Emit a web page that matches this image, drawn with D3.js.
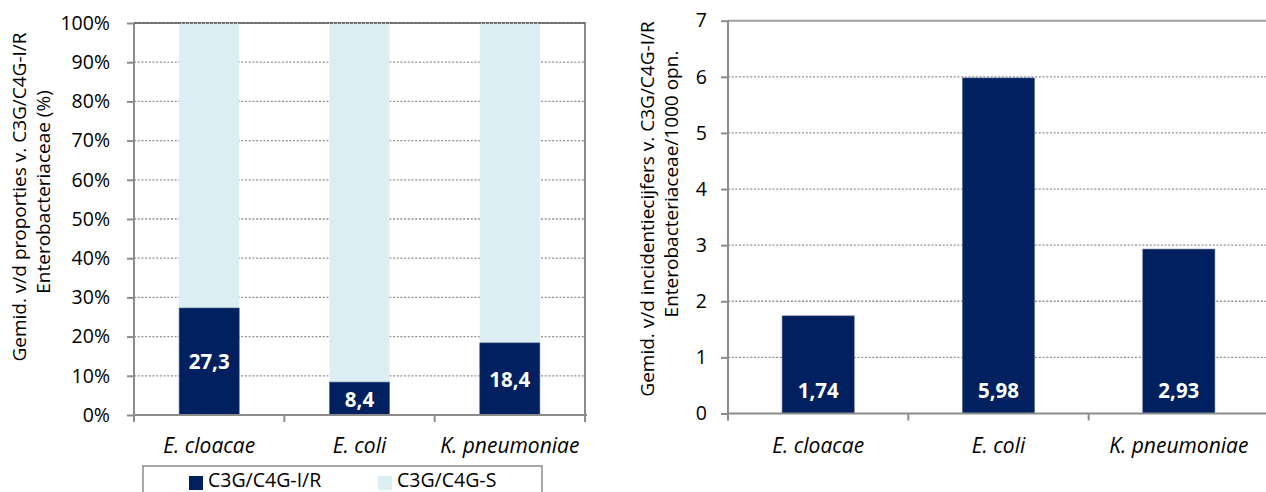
<!DOCTYPE html>
<html>
<head>
<meta charset="utf-8">
<script src="https://cdn.jsdelivr.net/npm/d3@7/dist/d3.min.js"></script>
<style>
  html, body { margin: 0; padding: 0; background: #fff; }
  svg { display: block; font-family: "Open Sans", "Noto Sans", sans-serif; }
</style>
</head>
<body>
<svg id="chart" width="1266" height="492"></svg>
<script>
// Species shown on both panels
const species = ["E. cloacae", "E. coli", "K. pneumoniae"];

// Left panel: mean proportion of C3G/C4G-I/R (%) — the remainder is susceptible
const resistantPct = [27.3, 8.4, 18.4];
const susceptiblePct = resistantPct.map(v => 100 - v);
const pctTicks = [0, 10, 20, 30, 40, 50, 60, 70, 80, 90, 100];

// Right panel: mean incidence per 1000 admissions
const incidence = [1.74, 5.98, 2.93];
const incTicks = [0, 1, 2, 3, 4, 5, 6, 7];

// Legend entries
const seriesNames = ["C3G/C4G-I/R", "C3G/C4G-S"];

const NAVY = "#002060";
const LIGHT = "#DAEEF3";
const AXIS = "#8c8c8c";
const GRID = "#8f8f8f";
const fmt = v => String(v).replace(".", ",");

const svg = d3.select("#chart");

function panel(opts) {
  const g = svg.append("g");
  const x = d3.scaleBand().domain(species).range(opts.xRange)
    .paddingInner(0.6).paddingOuter(0.3);
  const y = d3.scaleLinear().domain(opts.yDomain).range(opts.yRange);

  // dotted horizontal gridlines
  g.append("g").selectAll("line").data(opts.ticks.filter(t => t > opts.yDomain[0] && t < opts.yDomain[1]))
    .join("line")
    .attr("x1", opts.xRange[0]).attr("x2", opts.xRange[1])
    .attr("y1", d => y(d)).attr("y2", d => y(d))
    .attr("stroke", GRID).attr("stroke-width", 1.3)
    .attr("stroke-dasharray", "2,1.7");

  // plot-area border (top and right)
  g.append("path")
    .attr("d", `M${opts.xRange[0]},${y(opts.yDomain[1])}H${opts.xRange[1]}V${y(opts.yDomain[0])}`)
    .attr("fill", "none").attr("stroke", opts.borderColor).attr("stroke-width", 2);

  // y axis
  const ya = d3.axisLeft(y).tickValues(opts.ticks).tickSize(7).tickPadding(opts.tickPad)
    .tickFormat(opts.tickFormat);
  const yg = g.append("g").attr("transform", `translate(${opts.xRange[0]},0)`).call(ya);
  yg.select(".domain").attr("stroke", AXIS).attr("stroke-width", 2)
    .attr("d", `M0,${y(opts.yDomain[1])}V${y(opts.yDomain[0]) + 7}`);
  yg.selectAll(".tick line").attr("stroke", AXIS).attr("stroke-width", 2);
  yg.selectAll(".tick text").attr("fill", "#000").attr("font-size", 19.5)
    .attr("font-family", "'Open Sans', sans-serif");

  return { g, x, y };
}

function xAxis(p, xRange, baseY) {
  const step = p.x.step();
  const bounds = species.map(s => p.x(s) + p.x.bandwidth() / 2 - step / 2);
  bounds.push(xRange[1]);
  p.g.append("line")
    .attr("x1", xRange[0]).attr("x2", xRange[1] + 2)
    .attr("y1", baseY).attr("y2", baseY)
    .attr("stroke", AXIS).attr("stroke-width", 2);
  p.g.append("g").selectAll("line").data(bounds).join("line")
    .attr("x1", d => d).attr("x2", d => d)
    .attr("y1", baseY).attr("y2", baseY + 7)
    .attr("stroke", AXIS).attr("stroke-width", 2);
  p.g.append("g").selectAll("text").data(species).join("text")
    .attr("x", d => p.x(d) + p.x.bandwidth() / 2)
    .attr("y", 453)
    .attr("text-anchor", "middle")
    .attr("font-size", 21).attr("font-style", "italic")
    .text(d => d);
}

function axisTitle(lines) {
  lines.forEach(l => {
    svg.append("text")
      .attr("transform", `translate(${l.x},${l.y}) rotate(-90)`)
      .attr("text-anchor", "middle")
      .attr("dominant-baseline", "central")
      .attr("font-size", 19)
      .text(l.text);
  });
}

// ---------- Left panel: stacked 100% bars ----------
const L = panel({
  xRange: [134, 585], yDomain: [0, 100], yRange: [415, 23],
  ticks: pctTicks, tickFormat: d => d + "%", tickPad: 17, borderColor: "#8a8a8a"
});

const stackData = species.map((s, i) => ({ sp: s, r: resistantPct[i], s: susceptiblePct[i] }));
L.g.append("g").selectAll("rect.s").data(stackData).join("rect")
  .attr("x", d => L.x(d.sp)).attr("width", L.x.bandwidth())
  .attr("y", d => L.y(d.r + d.s)).attr("height", d => L.y(d.r) - L.y(d.r + d.s))
  .attr("fill", LIGHT);
L.g.append("g").selectAll("rect.r").data(stackData).join("rect")
  .attr("x", d => L.x(d.sp)).attr("width", L.x.bandwidth())
  .attr("y", d => L.y(d.r)).attr("height", d => L.y(0) - L.y(d.r))
  .attr("fill", NAVY).attr("stroke", "#5a6a8a").attr("stroke-width", 0.6);
// 100% line drawn over the light bars
L.g.append("line").attr("x1", 134).attr("x2", 585).attr("y1", L.y(100)).attr("y2", L.y(100))
  .attr("stroke", "#6f6f6f").attr("stroke-width", 2).attr("stroke-dasharray", "3,1");
L.g.append("g").selectAll("text").data(stackData).join("text")
  .attr("x", d => L.x(d.sp) + L.x.bandwidth() / 2)
  .attr("y", d => (L.y(d.r) + L.y(0)) / 2)
  .attr("text-anchor", "middle").attr("dominant-baseline", "central")
  .attr("fill", "#fff").attr("font-weight", "bold").attr("font-size", 20.5)
  .text(d => fmt(d.r));
xAxis(L, [134, 585], 415);

axisTitle([
  { x: 19, y: 197, text: "Gemid. v/d proporties v. C3G/C4G-I/R" },
  { x: 43, y: 192, text: "Enterobacteriaceae (%)" }
]);

// legend
const lg = svg.append("g");
lg.append("rect").attr("x", 143).attr("y", 466).attr("width", 399).attr("height", 40)
  .attr("fill", "#fff").attr("stroke", AXIS).attr("stroke-width", 1.5);
const legX = [189, 378];
const legColors = [NAVY, LIGHT];
seriesNames.forEach((n, i) => {
  lg.append("rect").attr("x", legX[i]).attr("y", 476).attr("width", 14).attr("height", 14)
    .attr("fill", legColors[i]);
  lg.append("text").attr("x", legX[i] + 19).attr("y", 487)
    .attr("font-size", 19.5).text(n);
});

// ---------- Right panel: incidence bars ----------
const R = panel({
  xRange: [728, 1269], yDomain: [0, 7], yRange: [413.5, 20.7],
  ticks: incTicks, tickFormat: d => d, tickPad: 14, borderColor: "#a0a0a0"
});
const incData = species.map((s, i) => ({ sp: s, v: incidence[i] }));
R.g.append("g").selectAll("rect").data(incData).join("rect")
  .attr("x", d => R.x(d.sp)).attr("width", R.x.bandwidth())
  .attr("y", d => R.y(d.v)).attr("height", d => R.y(0) - R.y(d.v))
  .attr("fill", NAVY).attr("stroke", "#5a6a8a").attr("stroke-width", 0.6);
R.g.append("g").selectAll("text").data(incData).join("text")
  .attr("x", d => R.x(d.sp) + R.x.bandwidth() / 2)
  .attr("y", R.y(0) - 24)
  .attr("text-anchor", "middle").attr("dominant-baseline", "central")
  .attr("fill", "#fff").attr("font-weight", "bold").attr("font-size", 20.5)
  .text(d => fmt(d.v));
xAxis(R, [728, 1269], 413.5);

axisTitle([
  { x: 647, y: 209, text: "Gemid. v/d incidentiecijfers v. C3G/C4G-I/R" },
  { x: 671, y: 184, text: "Enterobacteriaceae/1000 opn." }
]);
</script>
</body>
</html>
